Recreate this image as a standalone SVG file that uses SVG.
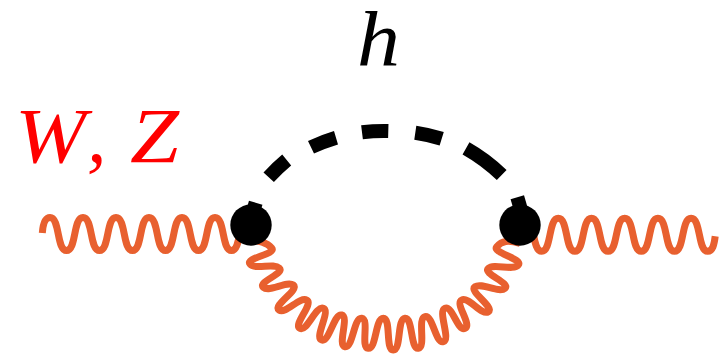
<svg xmlns="http://www.w3.org/2000/svg" width="722" height="354" viewBox="0 0 722 354">
<style>
.w{fill:none;stroke:#e8602f;stroke-width:7;stroke-linejoin:round}
.d{fill:none;stroke:#000;stroke-width:14}
.t{font-family:"Liberation Serif","Times New Roman",serif;font-style:italic;font-size:78px}
</style>
<rect width="722" height="354" fill="#fff"/>
<g id="connectors">
<path id="boson-in" class="w" d="M42.3,233C43,224 45,217.5 50,217.5c10,0 6.5,33 16.5,33s6.5,-33 16.5,-33s6.5,33 16.5,33s6.5,-33 16.5,-33s6.5,33 16.5,33s6.5,-33 16.5,-33s6.5,33 16.5,33s6.5,-33 16.5,-33s6.5,33 16.5,33s6.5,-33 16.5,-33s6.5,33 16.5,33s6.5,-33 16.5,-33"/>
<path id="boson-out" class="w" d="M525.2,218.3c10,0 6.5,33 16.5,33s6.5,-33 16.6,-33s6.5,33 16.6,33s6.5,-33 16.6,-33s6.5,33 16.6,33s6.5,-33 16.6,-33s6.5,33 16.6,33s6.5,-33 16.6,-33s6.5,33 16.6,33s6.5,-33 16.6,-33s6.5,33 16.6,33c5,0 6.5,-7 7.5,-15"/>
<path id="boson-loop" class="w" d="M250,240C258,241 266.5,242 271.7,248S244.8,257.9 250,264S273.3,262.7 279.3,268S257.3,282 263.3,287.3S286.7,280.5 293.3,285S272.3,305.6 279,310S299.6,296.3 306.7,300S292.8,324.9 300,328.3S315.8,305.4 323.3,308.3S314.1,337.5 321.7,340S334,313 341.7,315S337.2,345.1 345,346.7S353.8,317.2 361.7,318.3S360.3,347.6 368.3,348.3S375.3,318.3 383.3,318.3S385.3,350.3 393.3,350S397,319.2 405,318.3S410.4,349.6 418.3,348.3S417.2,318.6 425,316.7S435.6,344 443.3,341.7S437.5,311.1 445,308.3S457.7,331.6 465,328.3S454.6,303.6 461.7,300S481.6,316 488.3,311.7S468.3,291.1 475,286.7S499,293.5 505,288.3S482.3,273.6 488.3,268.3S513.1,271.1 518.3,265S491.5,252.7 496.7,246.7S508,240 520,243.3"/>
<g id="higgs">
<path class="d" d="M255.7,202.7L253,212"/>
<path class="d" d="M268.7,177.3A175,175 0 0 1 286.7,160"/>
<path class="d" d="M311,147.3A175,175 0 0 1 336,137.7"/>
<path class="d" d="M362,132.3A175,175 0 0 1 388.3,131"/>
<path class="d" d="M415.3,132.7A175,175 0 0 1 441.7,138.7"/>
<path class="d" d="M466,148.3A175,175 0 0 1 501.7,175"/>
<path class="d" d="M517.3,197.3L521,210"/>
</g>
</g>
<g id="vertex-left"><circle cx="251" cy="225" r="20.7"/></g>
<g id="vertex-right"><circle cx="520" cy="225" r="20.7"/></g>
<g id="label-h"><text class="t" x="357" y="66" textLength="43" lengthAdjust="spacingAndGlyphs">h</text></g>
<g id="label-wz" fill="#f00"><text class="t" x="15" y="162" textLength="71" lengthAdjust="spacingAndGlyphs">W</text><text class="t" x="87" y="162">,</text><text class="t" x="130" y="162" textLength="49" lengthAdjust="spacingAndGlyphs">Z</text></g>
</svg>
